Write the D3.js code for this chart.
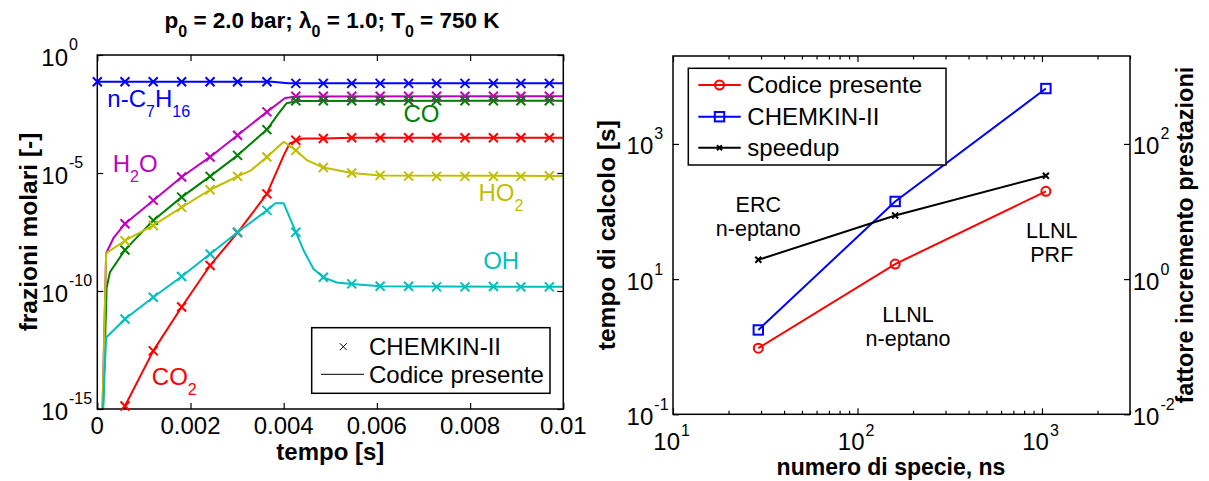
<!DOCTYPE html>
<html>
<head>
<meta charset="utf-8">
<script src="https://cdn.jsdelivr.net/npm/d3@7"></script>
<style>
  body { margin: 0; background: #fff; }
  svg { font-family: "Liberation Sans", Arial, sans-serif; }
</style>
</head>
<body>
<div id="chart"></div>
<script>
// ---------- left panel: mole fractions vs time ----------
var markerTimes = [0, 0.000594, 0.0012, 0.00181, 0.00242, 0.00301, 0.00364, 0.00426, 0.00485,
  0.00546, 0.00607, 0.00668, 0.00728, 0.00789, 0.0085, 0.00909, 0.0097];

// CHEMKIN-II values at markerTimes (null = still zero, off the log axis)
var nc7h16Chemkin = [7.4e-2, 7.4e-2, 7.4e-2, 7.4e-2, 7.4e-2, 7.4e-2, 7.4e-2, 6.3e-2, 6.3e-2,
  6.3e-2, 6.3e-2, 6.3e-2, 6.3e-2, 6.3e-2, 6.3e-2, 6.3e-2, 6.3e-2];
var h2oChemkin = [null, 7.1e-8, 6.9e-7, 6.8e-6, 4.8e-5, 4.0e-4, 3.9e-3, 1.8e-2, 1.8e-2,
  1.8e-2, 1.8e-2, 1.8e-2, 1.8e-2, 1.8e-2, 1.8e-2, 1.8e-2, 1.8e-2];
var coChemkin = [null, 5.5e-9, 9.8e-8, 9.5e-7, 7.2e-6, 5.6e-5, 6.9e-4, 1.15e-2, 1.15e-2,
  1.15e-2, 1.15e-2, 1.15e-2, 1.15e-2, 1.15e-2, 1.15e-2, 1.15e-2, 1.15e-2];
var co2Chemkin = [null, 1.35e-15, 2.9e-13, 2.1e-11, 1.2e-9, 3.0e-8, 1.3e-6, 2.45e-4, 2.9e-4,
  3.1e-4, 3.1e-4, 3.1e-4, 3.1e-4, 3.1e-4, 3.1e-4, 3.1e-4, 3.1e-4];
var ho2Chemkin = [null, 1.35e-8, 6.0e-8, 3.5e-7, 1.95e-6, 7.2e-6, 4.8e-5, 9.1e-5, 1.7e-5,
  1.0e-5, 7.9e-6, 7.4e-6, 7.2e-6, 7.2e-6, 7.2e-6, 7.2e-6, 7.6e-6];
var ohChemkin = [null, 6.5e-12, 5.4e-11, 4.1e-10, 3.7e-9, 3.1e-8, 2.6e-7, 3.1e-8, 3.8e-10,
  2.0e-10, 1.6e-10, 1.6e-10, 1.5e-10, 1.5e-10, 1.55e-10, 1.5e-10, 1.5e-10];

// "Codice presente" curves, [time, mole fraction]
var nc7h16Codice = [[0, 7.4e-2], [0.00375, 7.4e-2], [0.0041, 6.3e-2], [0.01, 6.3e-2]];
var h2oCodice = [[0.0001, 1e-16], [0.00019, 4e-9], [0.00035, 1.8e-8], [0.000594, 7.1e-8],
  [0.0012, 6.9e-7], [0.00181, 6.8e-6], [0.00242, 4.8e-5], [0.00301, 4.0e-4], [0.00364, 3.9e-3],
  [0.00403, 1.5e-2], [0.0043, 1.75e-2], [0.01, 1.8e-2]];
var coCodice = [[0.00011, 1e-16], [0.0002, 1.35e-10], [0.00027, 6.2e-10], [0.000594, 5.5e-9],
  [0.0012, 9.8e-8], [0.00181, 9.5e-7], [0.00242, 7.2e-6], [0.00301, 5.6e-5], [0.00364, 6.9e-4],
  [0.0039, 3.5e-3], [0.00406, 9e-3], [0.0043, 1.12e-2], [0.01, 1.15e-2]];
var co2Codice = [[0.00055, 1e-16], [0.000594, 1.35e-15], [0.0012, 2.9e-13], [0.00181, 2.1e-11],
  [0.00242, 1.2e-9], [0.00301, 3.0e-8], [0.00364, 1.3e-6], [0.004, 5.6e-5], [0.00413, 1.8e-4],
  [0.0044, 2.9e-4], [0.00485, 2.9e-4], [0.00546, 3.1e-4], [0.01, 3.1e-4]];
var ho2Codice = [[0.0001, 1e-16], [0.00019, 4e-9], [0.000594, 1.35e-8], [0.0012, 6.0e-8],
  [0.00181, 3.5e-7], [0.00242, 1.95e-6], [0.00301, 7.2e-6], [0.0033, 1.3e-5], [0.00364, 4.8e-5],
  [0.004, 2.1e-4], [0.00426, 9.1e-5], [0.0045, 3.5e-5], [0.00485, 1.7e-5], [0.00546, 1.0e-5],
  [0.00607, 7.9e-6], [0.01, 7.5e-6]];
var ohCodice = [[0.0001, 1e-16], [0.00019, 1.07e-12], [0.000594, 6.5e-12], [0.0012, 5.4e-11],
  [0.00181, 4.1e-10], [0.00242, 3.7e-9], [0.00301, 3.1e-8], [0.00364, 2.6e-7], [0.00382, 5.2e-7],
  [0.004, 5.2e-7], [0.00426, 3.1e-8], [0.00443, 5.1e-9], [0.00464, 8.5e-10], [0.00485, 3.8e-10],
  [0.00514, 2.3e-10], [0.00546, 2.0e-10], [0.00607, 1.6e-10], [0.01, 1.5e-10]];

var speciesNames = ["n-C_7H_16", "H_2O", "CO", "CO_2", "HO_2", "OH"];
var speciesColors = ["#0000ff", "#bf00bf", "#008000", "#ff0000", "#bfbf00", "#00bfbf"];
// where each species name sits: [time, mole fraction] of its baseline start
var speciesLabelAt = [[0.000215, 6.4e-3], [0.00033, 1.1e-5], [0.00657, 1.46e-3],
  [0.00117, 1.05e-14], [0.00818, 6.4e-7], [0.00828, 8.6e-10]];

var timeTicks = [0, 0.002, 0.004, 0.006, 0.008, 0.01];
var fracTickExps = [0, -5, -10, -15];

// ---------- right panel: CPU time vs number of species ----------
var speciesCount = [29, 160, 1050];
var timeCodice = [0.95, 16.7, 199];
var timeChemkin = [1.77, 141, 6600];
var speedup = [1.93, 8.75, 33.9];
var mechLabels = [["ERC", "n-eptano"], ["LLNL", "n-eptano"], ["LLNL", "PRF"]];
var mechLabelAt = [[29, 98], [188, 2.35], [1130, 40.5]];   // ns, seconds (first line baseline)

var nsTickExps = [1, 2, 3];
var timeTickExps = [-1, 1, 3];
var speedTickExps = [-2, 0, 2];

// ------------------------------------------------------------
var W = 1209, H = 481;
var FONT = 24;

var svg = d3.select('#chart').append('svg').attr('width', W).attr('height', H);
svg.append('rect').attr('width', W).attr('height', H).attr('fill', '#fff');

// inward ticks like matlab, no domain line (frame drawn separately)
function tickAxis(axisFn, scale, values, len, transform) {
  var g = svg.append('g').attr('transform', transform)
    .call(axisFn(scale).tickValues(values).tickSizeInner(-len).tickSizeOuter(0).tickFormat(''));
  g.select('.domain').remove();
  g.selectAll('line').attr('stroke', '#000').attr('stroke-width', 1.2);
  g.selectAll('text').remove();
  return g;
}

function frame(box) {
  svg.append('rect')
    .attr('x', box.left).attr('y', box.top)
    .attr('width', box.right - box.left).attr('height', box.bottom - box.top)
    .attr('fill', 'none').attr('stroke', '#000').attr('stroke-width', 1.5);
}

// "10" with a raised exponent; base text ends at xEnd
function powerLabel(xEnd, yBase, exp, supDy) {
  var g = svg.append('g');
  g.append('text').attr('x', xEnd).attr('y', yBase).attr('text-anchor', 'end')
    .attr('font-size', FONT).text('10');
  g.append('text').attr('x', xEnd + 1).attr('y', yBase + supDy)
    .attr('font-size', 16).text(exp);
}

// text with _digits rendered as subscripts
function chemText(sel, str, size, subSize, subDy) {
  var parts = str.split(/_(\d+)/);
  parts.forEach(function (p, i) {
    if (!p) return;
    var sub = i % 2 === 1;
    var ts = sel.append('tspan').text(p).attr('font-size', sub ? subSize : size);
    if (sub) ts.attr('dy', subDy);
    else if (i > 0) ts.attr('dy', -subDy);
  });
  return sel;
}

function xMark(g, x, y, r, color, width) {
  g.append('path')
    .attr('d', 'M' + (x - r) + ',' + (y - r) + 'L' + (x + r) + ',' + (y + r) +
      'M' + (x - r) + ',' + (y + r) + 'L' + (x + r) + ',' + (y - r))
    .attr('stroke', color).attr('stroke-width', width).attr('fill', 'none');
}

// ================= left panel =================
var L = {left: 97.3, right: 563.3, top: 55, bottom: 409};
var xTime = d3.scaleLinear().domain([0, 0.01]).range([L.left, L.right]);
var yFrac = d3.scaleLog().domain([1e-15, 1]).range([L.bottom, L.top]);

svg.append('clipPath').attr('id', 'clipL').append('rect')
  .attr('x', L.left).attr('y', L.top).attr('width', L.right - L.left).attr('height', L.bottom - L.top);

var fracTicks = fracTickExps.map(function (e) { return Math.pow(10, e); });
tickAxis(d3.axisBottom, xTime, timeTicks, 6, 'translate(0,' + L.bottom + ')');
tickAxis(d3.axisTop, xTime, timeTicks, 6, 'translate(0,' + L.top + ')');
tickAxis(d3.axisLeft, yFrac, fracTicks, 6, 'translate(' + L.left + ',0)');
tickAxis(d3.axisRight, yFrac, fracTicks, 6, 'translate(' + L.right + ',0)');

var codiceSeries = [nc7h16Codice, h2oCodice, coCodice, co2Codice, ho2Codice, ohCodice];
var chemkinSeries = [nc7h16Chemkin, h2oChemkin, coChemkin, co2Chemkin, ho2Chemkin, ohChemkin];

var lineL = d3.line()
  .x(function (d) { return xTime(d[0]); })
  .y(function (d) { return yFrac(d[1]); });

var plotL = svg.append('g').attr('clip-path', 'url(#clipL)');
codiceSeries.forEach(function (s, i) {
  plotL.append('path').datum(s).attr('d', lineL)
    .attr('fill', 'none').attr('stroke', speciesColors[i]).attr('stroke-width', 2)
    .attr('stroke-linejoin', 'round');
});

frame(L);

// markers are not clipped (the first one sits on the axis)
var marksL = svg.append('g');
chemkinSeries.forEach(function (s, i) {
  s.forEach(function (v, k) {
    if (v === null) return;
    xMark(marksL, xTime(markerTimes[k]), yFrac(v), 4.5, speciesColors[i], 2);
  });
});

// species names
speciesNames.forEach(function (name, i) {
  var t = svg.append('text')
    .attr('x', xTime(speciesLabelAt[i][0])).attr('y', yFrac(speciesLabelAt[i][1]))
    .attr('fill', speciesColors[i]);
  chemText(t, name, FONT, 16, 10);
});

// tick labels
timeTicks.forEach(function (d) {
  svg.append('text').attr('x', xTime(d)).attr('y', L.bottom + 25)
    .attr('text-anchor', 'middle').attr('font-size', FONT).text(String(d));
});
fracTickExps.forEach(function (e) {
  powerLabel(L.left - 29.3, yFrac(Math.pow(10, e)) + 10.5, String(e), -15.5);
});

// legend
svg.append('rect').attr('x', 311.7).attr('y', 327.7).attr('width', 238.3).attr('height', 65.6)
  .attr('fill', '#fff').attr('stroke', '#000').attr('stroke-width', 1.5);
xMark(svg, 343.3, 346.7, 3.5, '#000', 1);
svg.append('text').attr('x', 369).attr('y', 355).attr('font-size', FONT).text('CHEMKIN-II');
svg.append('line').attr('x1', 321).attr('x2', 364).attr('y1', 374.3).attr('y2', 374.3)
  .attr('stroke', '#000').attr('stroke-width', 1);
svg.append('text').attr('x', 369).attr('y', 382.6).attr('font-size', FONT).text('Codice presente');

// title and axis labels
var title = svg.append('text').attr('x', 332).attr('y', 28.3).attr('text-anchor', 'middle')
  .attr('font-weight', 'bold');
[['p', 22.5], ['0', 16, 9], [' = 2.0 bar; \u03bb', 22.5, -9], ['0', 16, 9], [' = 1.0; T', 22.5, -9],
  ['0', 16, 9], [' = 750 K', 22.5, -9]].forEach(function (p) {
  var ts = title.append('tspan').attr('font-size', p[1]).text(p[0]);
  if (p[2]) ts.attr('dy', p[2]);
});

svg.append('text').attr('x', (L.left + L.right) / 2).attr('y', 460)
  .attr('text-anchor', 'middle').attr('font-weight', 'bold').attr('font-size', 24)
  .text('tempo [s]');
svg.append('text').attr('transform', 'translate(37,' + (L.top + L.bottom) / 2 + ') rotate(-90)')
  .attr('text-anchor', 'middle').attr('font-weight', 'bold').attr('font-size', 24.5)
  .text('frazioni molari [-]');

// ================= right panel =================
var R = {left: 673, right: 1130, top: 56, bottom: 414.3};
var xSpecies = d3.scaleLog().domain([10, 3000]).range([R.left, R.right]);
var yTime = d3.scaleLog().domain([0.1, 2e4]).range([R.bottom, R.top]);
var ySpeed = d3.scaleLog().domain([0.01, 2e3]).range([R.bottom, R.top]);

var nsMajor = nsTickExps.map(function (e) { return Math.pow(10, e); });
var nsMinor = [];
[10, 100, 1000].forEach(function (dec) {
  for (var m = 2; m <= 9; m++) if (m * dec <= 3000) nsMinor.push(m * dec);
});
tickAxis(d3.axisBottom, xSpecies, nsMajor, 6, 'translate(0,' + R.bottom + ')');
tickAxis(d3.axisBottom, xSpecies, nsMinor, 3.5, 'translate(0,' + R.bottom + ')');
tickAxis(d3.axisTop, xSpecies, nsMajor, 6, 'translate(0,' + R.top + ')');
tickAxis(d3.axisTop, xSpecies, nsMinor, 3.5, 'translate(0,' + R.top + ')');
tickAxis(d3.axisLeft, yTime, timeTickExps.map(function (e) { return Math.pow(10, e); }), 6,
  'translate(' + R.left + ',0)');
tickAxis(d3.axisRight, ySpeed, speedTickExps.map(function (e) { return Math.pow(10, e); }), 6,
  'translate(' + R.right + ',0)');

var lineTime = d3.line()
  .x(function (d, i) { return xSpecies(speciesCount[i]); })
  .y(function (d) { return yTime(d); });
var lineSpeed = d3.line()
  .x(function (d, i) { return xSpecies(speciesCount[i]); })
  .y(function (d) { return ySpeed(d); });

var plotR = svg.append('g');
plotR.append('path').datum(timeCodice).attr('d', lineTime)
  .attr('fill', 'none').attr('stroke', '#ff0000').attr('stroke-width', 2);
plotR.append('path').datum(timeChemkin).attr('d', lineTime)
  .attr('fill', 'none').attr('stroke', '#0000ff').attr('stroke-width', 2);
plotR.append('path').datum(speedup).attr('d', lineSpeed)
  .attr('fill', 'none').attr('stroke', '#000').attr('stroke-width', 2);

function circleMark(g, x, y) {
  g.append('circle').attr('cx', x).attr('cy', y).attr('r', 4.5)
    .attr('fill', 'none').attr('stroke', '#ff0000').attr('stroke-width', 2);
}
function squareMark(g, x, y) {
  g.append('rect').attr('x', x - 4.7).attr('y', y - 4.7).attr('width', 9.4).attr('height', 9.4)
    .attr('fill', 'none').attr('stroke', '#0000ff').attr('stroke-width', 2);
}
speciesCount.forEach(function (n, i) {
  circleMark(plotR, xSpecies(n), yTime(timeCodice[i]));
  squareMark(plotR, xSpecies(n), yTime(timeChemkin[i]));
  xMark(plotR, xSpecies(n), ySpeed(speedup[i]), 3, '#000', 2);
});

frame(R);

// mechanism notes
mechLabels.forEach(function (lines, i) {
  var x = xSpecies(mechLabelAt[i][0]), y = yTime(mechLabelAt[i][1]);
  lines.forEach(function (s, k) {
    svg.append('text').attr('x', x).attr('y', y + k * 24).attr('text-anchor', 'middle')
      .attr('font-size', 21.5).text(s);
  });
});

// tick labels
nsTickExps.forEach(function (e) {
  powerLabel(xSpecies(Math.pow(10, e)) + 7, R.bottom + 35.5, String(e), -14);
});
timeTickExps.forEach(function (e) {
  powerLabel(653.3, yTime(Math.pow(10, e)) + 10.5, String(e), -15);
});
speedTickExps.forEach(function (e) {
  powerLabel(1132.7 + 26.7, ySpeed(Math.pow(10, e)) + 10.5, String(e), -15);
});

// legend
var legItems = [['Codice presente', circleMark], ['CHEMKIN-II', squareMark], ['speedup', null]];
var legColors = ['#ff0000', '#0000ff', '#000'];
var legRows = [85, 116.7, 147.7];
svg.append('rect').attr('x', 688.3).attr('y', 68.3).attr('width', 257.7).attr('height', 96.7)
  .attr('fill', '#fff').attr('stroke', '#000').attr('stroke-width', 1.5);
legItems.forEach(function (it, i) {
  var y = legRows[i];
  svg.append('line').attr('x1', 698.3).attr('x2', 740.7).attr('y1', y).attr('y2', y)
    .attr('stroke', legColors[i]).attr('stroke-width', 2);
  if (it[1]) it[1](svg, 719.5, y);
  else xMark(svg, 719.5, y, 2.5, '#000', 2);
  svg.append('text').attr('x', 747.3).attr('y', y + 8.3).attr('font-size', FONT).text(it[0]);
});

// axis labels
svg.append('text').attr('x', 891).attr('y', 474.5)
  .attr('text-anchor', 'middle').attr('font-weight', 'bold').attr('font-size', 23)
  .text('numero di specie, ns');
svg.append('text').attr('transform', 'translate(615,' + (R.top + R.bottom) / 2 + ') rotate(-90)')
  .attr('text-anchor', 'middle').attr('font-weight', 'bold').attr('font-size', 24.5)
  .text('tempo di calcolo [s]');
svg.append('text').attr('transform', 'translate(1193,' + (R.top + R.bottom) / 2 + ') rotate(-90)')
  .attr('text-anchor', 'middle').attr('font-weight', 'bold').attr('font-size', 23.5)
  .text('fattore incremento prestazioni');
</script>
</body>
</html>
